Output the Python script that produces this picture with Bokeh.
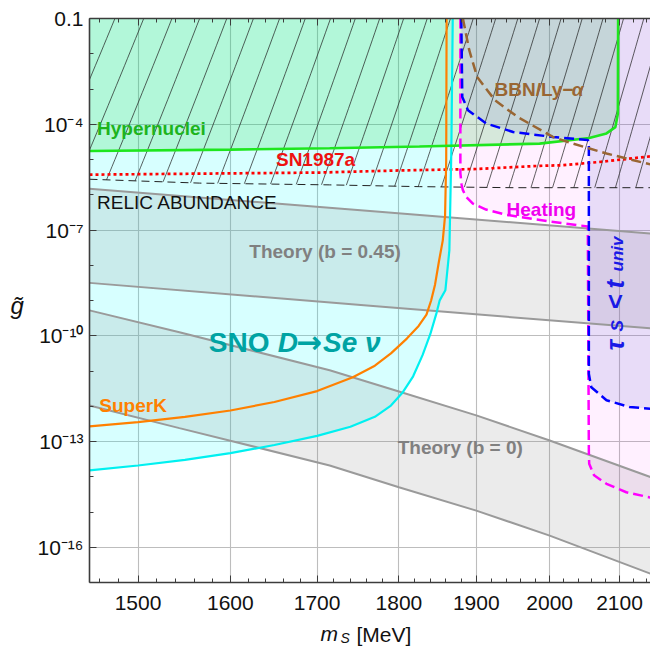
import numpy as np
from bokeh.plotting import figure
from bokeh.models import (Range1d, FixedTicker, LogAxis, Label,
                          CustomJSTickFormatter, NumeralTickFormatter)
from bokeh.embed import file_html
from bokeh.resources import INLINE

# ---------------- axes ----------------
M_MIN, M_MAX = 1450, 2146
G_MIN, G_MAX = 1e-17, 1e-1
LOG_TOP = -1.0
X_TICKS = [1500, 1600, 1700, 1800, 1900, 2000, 2100]
X_MINOR = list(range(1460, 2146, 20))
Y_TICKS = [1e-16, 1e-13, 1e-10, 1e-7, 1e-4, 1e-1]
Y_MINOR = [10.0 ** e for e in range(-17, 0)]

# ---------------- data (m_S in MeV, log10 of coupling) ----------------
SNO_M = [1450, 1500, 1550, 1600, 1650, 1700, 1740, 1770, 1790, 1805, 1818, 1830, 1840, 1848, 1852,
         1853.5, 1859.4, 1864.6, 1867.2, 1869]
SNO_LOGG = [-13.82, -13.68, -13.52, -13.33, -13.10, -12.84, -12.58, -12.30, -11.98, -11.60, -11.15, -10.55,
            -9.95, -9.35, -9.0, -8.94, -8.71, -7.58, -4.74, -1.0]

SUPERK_M = [1450, 1500, 1550, 1600, 1650, 1700, 1743, 1770, 1790, 1810, 1825, 1835, 1841, 1846, 1851,
            1856, 1859, 1860.5, 1861]
SUPERK_LOGG = [-12.57, -12.45, -12.30, -12.12, -11.88, -11.57, -11.18, -10.85, -10.50, -10.08, -9.72, -9.40,
               -9.0, -8.55, -7.9, -7.3, -6.6, -5.0, -1.0]

HYP_M = [1450, 1600, 1715, 1826, 1986, 2056, 2081, 2094, 2097.6, 2098]
HYP_LOGG = [-4.76, -4.72, -4.68, -4.63, -4.55, -4.39, -4.26, -4.08, -3.70, -1.0]

SN_M = [1450, 1703, 1801, 1900, 1986, 2015, 2071, 2146]
SN_LOGG = [-5.43, -5.37, -5.31, -5.27, -5.18, -5.165, -5.07, -4.91]

RELIC_M = [1450, 1566, 1715, 1826, 1950, 2146]
RELIC_LOGG = [-5.56, -5.67, -5.72, -5.77, -5.80, -5.80]

TH45_M = [1450, 1764, 2146]
TH45_UP = [-5.83, -6.46, -7.10]
TH45_LO = [-8.50, -9.15, -9.79]

TH0_M = [1450, 1544, 1715, 1800, 1900, 2000, 2146]
TH0_UP = [-9.28, -9.90, -10.98, -11.58, -12.26, -12.97, -14.01]
TH0_LO = [-11.98, -12.62, -13.68, -14.30, -14.96, -15.67, -16.75]

HEAT_M = [1879, 1879, 1880.5, 1882.3, 1886.6, 1895.5, 1913, 1940.6, 2000, 2054, 2055.5, 2056, 2063, 2081, 2110, 2146]
HEAT_LOGG = [-1.0, -5.39, -5.70, -5.87, -6.06, -6.25, -6.42, -6.57, -6.76, -6.90, -13.30, -13.63, -13.96, -14.20, -14.44, -14.59]

TAU_M = [1880.2, 1881.5, 1889, 1913.3, 1949.5, 2004.4, 2054, 2055.5, 2055.5, 2059, 2081, 2114.8, 2146]
TAU_LOGG = [-1.0, -3.225, -3.60, -3.98, -4.22, -4.36, -4.45, -4.50, -11.08, -11.46, -11.83, -12.02, -12.07]

BBN_M = [1882.3, 1890.7, 1901.2, 1925, 1955.5, 2004.4, 2032.8, 2081, 2146]
BBN_LOGG = [-1.0, -1.90, -2.66, -3.32, -3.79, -4.36, -4.55, -4.83, -5.14]

# relic-abundance hatching: line spacing (MeV) and slope (decades per MeV)
HATCH_START, HATCH_STEP, HATCH_SLOPE = 1446, 30, 1.0 / 15.0


def G(a):
    return (10.0 ** np.asarray(a, dtype=float)).tolist()


W, H = 650, 648
p = figure(width=W, height=H, x_axis_type="log", y_axis_type="log",
           x_range=Range1d(M_MIN, M_MAX), y_range=Range1d(G_MIN, G_MAX),
           output_backend="svg", toolbar_location=None,
           min_border_left=89, min_border_right=0, min_border_top=18, min_border_bottom=66)
p.outline_line_color = None

bottom_axis = p.below[0]
left_axis = p.left[0]

xt = FixedTicker(ticks=X_TICKS, minor_ticks=X_MINOR)
yt = FixedTicker(ticks=Y_TICKS, minor_ticks=Y_MINOR)
bottom_axis.ticker = xt
left_axis.ticker = yt
p.xgrid.ticker = xt
p.ygrid.ticker = yt
for gr in (p.xgrid, p.ygrid):
    gr.grid_line_color = "#bdbdbd"
    gr.grid_line_width = 1.1

bottom_axis.formatter = NumeralTickFormatter(format="0")
left_axis.formatter = CustomJSTickFormatter(code="""
const e = Math.round(Math.log10(tick));
if (e == -1) { return "0.1"; }
const sup = {"-": "\u207b", "0": "\u2070", "1": "\u00b9", "2": "\u00b2", "3": "\u00b3",
             "4": "\u2074", "5": "\u2075", "6": "\u2076", "7": "\u2077", "8": "\u2078", "9": "\u2079"};
return "10" + String(e).split("").map(c => sup[c]).join("");
""")

top_axis = LogAxis(ticker=xt, formatter=CustomJSTickFormatter(code="return ''"),
                   major_label_text_font_size="1px", major_label_standoff=0)
p.add_layout(top_axis, "above")

for ax in (bottom_axis, left_axis, top_axis):
    ax.axis_line_color = "#3c3c3c"
    ax.axis_line_width = 1.6
    ax.major_tick_in = 7
    ax.major_tick_out = 0
    ax.minor_tick_in = 4
    ax.minor_tick_out = 0
    ax.major_tick_line_color = "#3c3c3c"
    ax.minor_tick_line_color = "#3c3c3c"
    ax.major_label_text_font = "Liberation Sans"
    ax.major_label_text_color = "#111111"
bottom_axis.major_label_text_font_size = "21px"
left_axis.major_label_text_font_size = "21px"
bottom_axis.major_label_standoff = 13
left_axis.major_label_standoff = 6

# ---------------- filled regions ----------------
p.patch(SNO_M + [SNO_M[0]], G(SNO_LOGG + [LOG_TOP]), fill_color="#00ffff", fill_alpha=0.155, line_color=None)
p.varea(x=TH45_M, y1=G(TH45_LO), y2=G(TH45_UP), fill_color="#808080", fill_alpha=0.16)
p.varea(x=TH0_M, y1=G(TH0_LO), y2=G(TH0_UP), fill_color="#808080", fill_alpha=0.16)
p.patch(HYP_M + [HYP_M[0]], G(HYP_LOGG + [LOG_TOP]), fill_color="#00cf1c", fill_alpha=0.17, line_color=None)
p.patch(HEAT_M + [HEAT_M[-1]], G(HEAT_LOGG + [LOG_TOP]), fill_color="#ff00ff", fill_alpha=0.06, line_color=None)
p.patch(TAU_M + [TAU_M[-1]], G(TAU_LOGG + [LOG_TOP]), fill_color="#626bcd", fill_alpha=0.15, line_color=None)

# ---------------- hatching above relic abundance ----------------
hx, hy = [], []
for mt in np.arange(HATCH_START - 6 * HATCH_STEP, M_MAX + 6 * HATCH_STEP, HATCH_STEP):
    m_end = mt - 70.0
    for _ in range(30):
        m_end = mt - (LOG_TOP - np.interp(m_end, RELIC_M, RELIC_LOGG)) / HATCH_SLOPE
    mm = np.linspace(m_end, mt, 25)
    hx.append(mm.tolist())
    hy.append(G(LOG_TOP - HATCH_SLOPE * (mt - mm)))
p.multi_line(hx, hy, line_color="#222222", line_width=0.8, line_alpha=0.9)

# ---------------- boundary lines ----------------
p.line(TH45_M, G(TH45_UP), line_color="#9a9a9a", line_width=2)
p.line(TH45_M, G(TH45_LO), line_color="#9a9a9a", line_width=2)
p.line(TH0_M, G(TH0_UP), line_color="#9a9a9a", line_width=2)
p.line(TH0_M, G(TH0_LO), line_color="#9a9a9a", line_width=2)
p.line(RELIC_M, G(RELIC_LOGG), line_color="#222222", line_width=1, line_dash="8 5")
p.line(SN_M, G(SN_LOGG), line_color="#ff0000", line_width=2.7, line_dash="3 3")
p.line(SNO_M, G(SNO_LOGG), line_color="#00f0f0", line_width=2.2)
p.line(SUPERK_M, G(SUPERK_LOGG), line_color="#ff8000", line_width=2.2)
p.line(HYP_M, G(HYP_LOGG), line_color="#1ee61e", line_width=2.6)
p.line(HEAT_M, G(HEAT_LOGG), line_color="#ff00ff", line_width=2.5, line_dash="10 5")
p.line(TAU_M, G(TAU_LOGG), line_color="#0000ff", line_width=2.5, line_dash="10 5")
p.line(BBN_M, G(BBN_LOGG), line_color="#996633", line_width=2.5, line_dash="10 5")

# ---------------- region labels ----------------
FONT = "Liberation Sans"
LABELS = [
    ("Hypernuclei", 1457.7, -4.114, "19px", "bold", "#1db41d", FONT),
    ("SN1987a", 1651.8, -4.994, "19px", "bold", "#ee1111", FONT),
    ("RELIC ABUNDANCE", 1457.7, -6.206, "19px", "normal", "#111111", FONT),
    ("Theory (b = 0.45)", 1621.3, -7.605, "19px", "bold", "#808080", FONT),
    ("SuperK", 1460, -11.976, "19px", "bold", "#ff8000", FONT),
    ("Theory (b = 0)", 1798.5, -13.169, "19px", "bold", "#808080", FONT),
    ("BBN/Ly\u2212", 1924.3, -3.007, "19px", "bold", "#996633", FONT),
    ("\u03b1", 2031, -3.007, "19px", "bold italic", "#996633", FONT),
    ("Heating", 1940.6, -6.413, "19px", "bold", "#f000f0", FONT),
    ("SNO", 1576, -10.188, "28px", "bold", "#00a3a3", FONT),
    ("D", 1654, -10.188, "28px", "bold italic", "#00a3a3", FONT),
    ("\u2192", 1675, -10.188, "31px", "bold", "#00a3a3", "DejaVu Sans"),
    ("Se \u03bd", 1707, -10.188, "28px", "bold italic", "#00a3a3", FONT),
]
for txt, lx, ly, fs, st, col, fnt in LABELS:
    p.add_layout(Label(x=lx, y=10.0 ** ly, text=txt, text_font=fnt, text_font_size=fs,
                       text_font_style=st, text_color=col, text_align="left",
                       text_baseline="middle"))

# rotated label: tau_S < t_univ
TAU_LABEL = [
    ("\u03c4", 2092.8, -10.418, "26px"),
    ("S", 2097.2, -9.879, "17px"),
    ("<", 2092.8, -9.255, "26px"),
    ("t", 2092.8, -8.66, "26px"),
    ("univ", 2097.2, -8.177, "17px"),
]
for txt, lx, ly, fs in TAU_LABEL:
    p.add_layout(Label(x=lx, y=10.0 ** ly, text=txt, text_font=FONT, text_font_size=fs,
                       text_font_style="bold italic", text_color="#1a1ae6", angle=np.pi / 2,
                       text_align="left", text_baseline="alphabetic"))

# ---------------- axis titles (canvas pixel positions from the top-left) ----------------
# they live in the side panels so that they are not clipped to the plot frame
AXIS_TITLES = [
    ("g\u0303", 10, 305, "24px", "italic", "left"),
    ("m", 320, 633, "21px", "italic", "left"),
    ("S", 340, 637, "14px", "italic", "above"),
    ("[MeV]", 356, 634, "21px", "normal", "below"),
]
for txt, sx, sy, fs, st, side in AXIS_TITLES:
    p.add_layout(Label(x=sx, y=sy, x_units="canvas", y_units="canvas", text=txt,
                       text_font=FONT, text_font_size=fs, text_font_style=st,
                       text_color="#111111", text_align="left", text_baseline="alphabetic"), side)

open("out.html", "w").write(file_html(p, INLINE))
